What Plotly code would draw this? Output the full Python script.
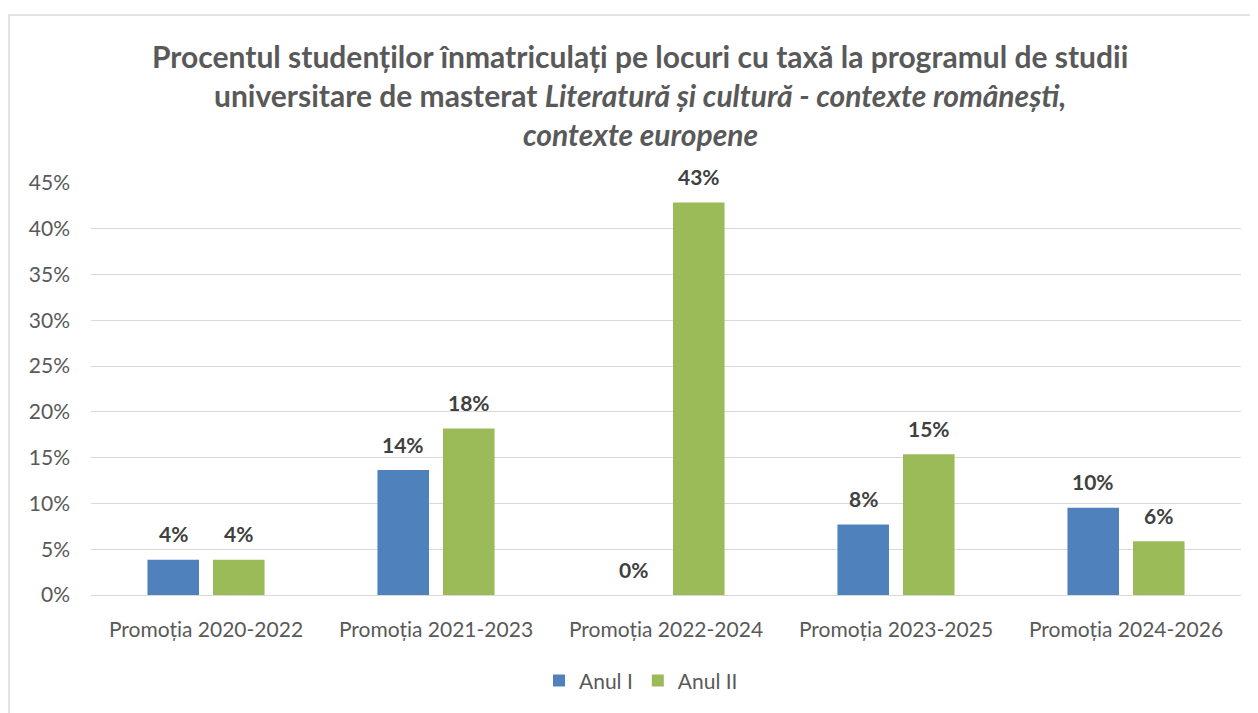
import plotly.graph_objects as go

categories = ["Promoția 2020-2022", "Promoția 2021-2023", "Promoția 2022-2024",
              "Promoția 2023-2025", "Promoția 2024-2026"]
anul_i = [0.0385, 0.1364, 0.0, 0.0769, 0.0952]
anul_ii = [0.0385, 0.1818, 0.4286, 0.1538, 0.0588]
series_names = ["Anul I", "Anul II"]
series_colors = ["#4F81BD", "#9BBB59"]
title_lines = [
    "<b>Procentul studenților înmatriculați pe locuri cu taxă la programul de studii</b>",
    "<b>universitare de masterat <i>Literatură și cultură - contexte românești,</i></b>",
    "<b><i>contexte europene</i></b>",
]
y_ticks = [0, 0.05, 0.10, 0.15, 0.20, 0.25, 0.30, 0.35, 0.40, 0.45]

# page has an 8px body margin, so figure coordinates = page coordinates - 8
W, H = 1250, 705
ML, MR, MT, MB = 83, 17, 175, 113
FONT = "Lato"
BARGAP = 0.43
BARGROUPGAP = 0.214

fig = go.Figure()
for name, vals, col in zip(series_names, [anul_i, anul_ii], series_colors):
    fig.add_trace(go.Bar(x=categories, y=vals, name=name, marker_color=col,
                         marker_line_width=0))

plot_w = W - ML - MR
plot_h = H - MT - MB
cat_w = plot_w / len(categories)
slot = cat_w * (1 - BARGAP) / 2

# data labels above bars
for si, vals in enumerate([anul_i, anul_ii]):
    xs = (-0.5 + si) * slot
    for c, v in zip(categories, vals):
        fig.add_annotation(x=c, y=v, text="<b>%d%%</b>" % round(v * 100),
                           showarrow=False, xshift=xs, yshift=26, yanchor="middle",
                           font=dict(family=FONT, size=21, color="#404040"))

# title lines
title_y_px = [46, 86, 125]
for line, ypx in zip(title_lines, title_y_px):
    fig.add_annotation(text=line, xref="paper", yref="paper",
                       x=(632 - ML) / plot_w, y=(H - MB - ypx) / plot_h,
                       xanchor="center", yanchor="middle", showarrow=False,
                       font=dict(family=FONT, size=30, color="#595959"))

# chart border
fig.add_shape(type="rect", xref="paper", yref="paper",
              x0=(1 - ML) / plot_w, x1=1.2, y0=-0.6, y1=(H - MB - 5) / plot_h,
              line=dict(color="#D9D9D9", width=1.5), fillcolor="rgba(0,0,0,0)",
              layer="below")

fig.update_layout(
    width=W, height=H,
    margin=dict(l=ML, r=MR, t=MT, b=MB),
    paper_bgcolor="white", plot_bgcolor="white",
    barmode="group", bargap=BARGAP, bargroupgap=BARGROUPGAP,
    font=dict(family=FONT, size=21, color="#595959"),
    legend=dict(orientation="h", x=(633 - ML) / plot_w, xanchor="center",
                y=(H - MB - 679) / plot_h, yanchor="middle",
                font=dict(family=FONT, size=21, color="#595959"),
                itemwidth=30, traceorder="normal"),
    showlegend=True,
)
fig.update_yaxes(range=[0, 0.45], tickvals=y_ticks, tickformat=".0%",
                 showgrid=True, gridcolor="#D9D9D9", gridwidth=1,
                 zeroline=False, showline=False, ticklabelstandoff=20,
                 tickfont=dict(family=FONT, size=21, color="#595959"))
fig.update_xaxes(showline=True, linecolor="#D9D9D9", linewidth=1,
                 ticks="", ticklabelstandoff=16,
                 tickfont=dict(family=FONT, size=21, color="#595959"))

fig.write_html("out.html")
